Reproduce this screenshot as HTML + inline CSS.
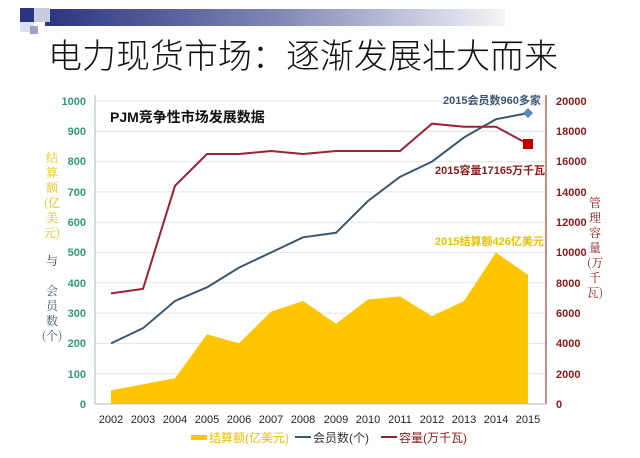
<!DOCTYPE html>
<html><head><meta charset="utf-8"><style>
body{margin:0;width:640px;height:453px;background:#fff;overflow:hidden;font-family:"Liberation Sans","Noto Sans CJK SC",sans-serif}
</style></head><body>
<svg width="640" height="453" xmlns="http://www.w3.org/2000/svg" font-family="Liberation Sans, Noto Sans CJK SC, sans-serif">
<defs><linearGradient id="hb" x1="0" x2="1"><stop offset="0" stop-color="#2a3580"/><stop offset="0.5" stop-color="#7f86b5"/><stop offset="1" stop-color="#f4f4f8"/></linearGradient></defs>
<rect x="45" y="9" width="460" height="17" fill="url(#hb)"/>
<rect x="20" y="8" width="14" height="14" fill="#2a3580"/>
<rect x="34" y="8" width="16" height="14" fill="#c9cbe0"/>
<rect x="20" y="22" width="14" height="10" fill="#dfe0ee"/>
<rect x="30" y="26" width="8" height="8" fill="#9da1c8"/>
<text x="48" y="68" font-size="34" fill="#111" font-family="Noto Sans CJK SC, sans-serif" font-weight="300">电力现货市场：逐渐发展壮大而来</text>
<g stroke="#e4e4e4" stroke-width="1">
<line x1="95" x2="546" y1="131.3" y2="131.3"/><line x1="95" x2="546" y1="161.6" y2="161.6"/><line x1="95" x2="546" y1="191.9" y2="191.9"/><line x1="95" x2="546" y1="222.2" y2="222.2"/><line x1="95" x2="546" y1="252.5" y2="252.5"/><line x1="95" x2="546" y1="282.8" y2="282.8"/><line x1="95" x2="546" y1="313.1" y2="313.1"/><line x1="95" x2="546" y1="343.4" y2="343.4"/><line x1="95" x2="546" y1="373.7" y2="373.7"/><line x1="95" x2="546" y1="101" y2="101"/>
</g>
<polygon fill="#ffc600" points="111,404 111,390.4 143,384.3 175,378.2 207,334.3 239,343.4 271,311.6 303,301 336,323.7 368,299.5 400,296.4 432,316.1 464,301 496,252.5 528,274.9 528,404"/>
<line x1="95" y1="95" x2="95" y2="404" stroke="#9bbfb8"/>
<line x1="546" y1="95" x2="546" y2="404" stroke="#8b1a1a"/>
<line x1="95" y1="404" x2="546" y2="404" stroke="#bbb"/>
<polyline fill="none" stroke="#3d5670" stroke-width="2" points="111,343.4 143,328.2 175,301 207,287.3 239,267.6 271,252.5 303,237.3 336,232.8 368,201 400,176.8 432,161.6 464,137.4 496,119.2 528,113.1"/>
<polyline fill="none" stroke="#9b2232" stroke-width="2" points="111,293.4 143,288.9 175,185.8 207,154 239,154 271,151 303,154 336,151 368,151 400,151 432,123.7 464,126.8 496,126.8 528,144"/>
<polygon points="528,108 533,113 528,118 523,113" fill="#5a86c0"/>
<rect x="523" y="139" width="10" height="10" fill="#c00000"/>
<g font-size="11" fill="#2e9a7a" font-weight="bold" text-anchor="end">
<text x="86" y="105">1000</text><text x="86" y="135">900</text><text x="86" y="165">800</text><text x="86" y="196">700</text><text x="86" y="226">600</text><text x="86" y="256">500</text><text x="86" y="287">400</text><text x="86" y="317">300</text><text x="86" y="347">200</text><text x="86" y="378">100</text><text x="86" y="408">0</text>
</g>
<g font-size="11" fill="#8b1a1a" font-weight="bold">
<text x="556" y="105">20000</text><text x="556" y="135">18000</text><text x="556" y="165">16000</text><text x="556" y="196">14000</text><text x="556" y="226">12000</text><text x="556" y="256">10000</text><text x="556" y="287">8000</text><text x="556" y="317">6000</text><text x="556" y="347">4000</text><text x="556" y="378">2000</text><text x="556" y="408">0</text>
</g>
<g font-size="11" fill="#222" text-anchor="middle">
<text x="111" y="423">2002</text><text x="143" y="423">2003</text><text x="175" y="423">2004</text><text x="207" y="423">2005</text><text x="239" y="423">2006</text><text x="271" y="423">2007</text><text x="303" y="423">2008</text><text x="336" y="423">2009</text><text x="368" y="423">2010</text><text x="400" y="423">2011</text><text x="432" y="423">2012</text><text x="464" y="423">2013</text><text x="496" y="423">2014</text><text x="528" y="423">2015</text>
</g>
<text x="110" y="122" font-size="14" font-weight="bold" fill="#111">PJM竞争性市场发展数据</text>
<text x="443" y="104" font-size="11" font-weight="bold" fill="#3d5670">2015会员数960多家</text>
<text x="435" y="174" font-size="11" font-weight="bold" fill="#8b1a1a">2015容量17165万千瓦</text>
<text x="435" y="245" font-size="11" font-weight="bold" fill="#e6c200">2015结算额426亿美元</text>
<g font-size="12" text-anchor="middle" font-family="Noto Serif CJK SC, serif">
<text x="52" y="162" fill="#e6c200">结</text><text x="52" y="177" fill="#e6c200">算</text><text x="52" y="192" fill="#e6c200">额</text><text x="52" y="207" fill="#e6c200">(亿</text><text x="52" y="222" fill="#e6c200">美</text><text x="52" y="237" fill="#e6c200">元)</text>
<text x="52" y="265" fill="#333">与</text>
<text x="52" y="295" fill="#3d5670">会</text><text x="52" y="310" fill="#3d5670">员</text><text x="52" y="325" fill="#3d5670">数</text><text x="52" y="340" fill="#3d5670">(个)</text>
<text x="595" y="207" fill="#8b1a1a">管</text><text x="595" y="222" fill="#8b1a1a">理</text><text x="595" y="237" fill="#8b1a1a">容</text><text x="595" y="252" fill="#8b1a1a">量</text><text x="595" y="267" fill="#8b1a1a">(万</text><text x="595" y="282" fill="#8b1a1a">千</text><text x="595" y="297" fill="#8b1a1a">瓦)</text>
</g>
<rect x="191" y="435" width="16" height="5" fill="#ffc600"/>
<text x="209" y="442" font-size="12" fill="#e6c200">结算额(亿美元)</text>
<line x1="295" x2="311" y1="437" y2="437" stroke="#3d5670" stroke-width="2"/>
<text x="313" y="442" font-size="12" fill="#333">会员数(个)</text>
<line x1="381" x2="397" y1="437" y2="437" stroke="#9b2232" stroke-width="2"/>
<text x="399" y="442" font-size="12" fill="#8b1a1a">容量(万千瓦)</text>
</svg>
</body></html>
